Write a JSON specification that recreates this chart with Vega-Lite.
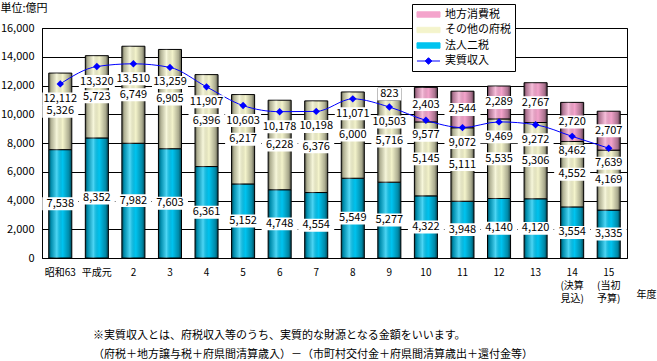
{
  "$schema": "https://vega.github.io/schema/vega-lite/v6.json",
  "width": 585,
  "height": 230,
  "autosize": {"type": "none"},
  "padding": {"left": 42, "top": 28, "right": 30, "bottom": 103},
  "background": "white",
  "config": {
    "font": "Noto Sans CJK JP",
    "view": {"stroke": "black", "strokeWidth": 1},
    "axis": {"labelColor": "black", "titleColor": "black", "labelFont": "Noto Sans CJK JP", "titleFont": "Noto Sans CJK JP"},
    "axisY": {
      "title": "単位:億円",
      "titleAngle": 0,
      "titleX": -42,
      "titleY": -20,
      "titleAlign": "left",
      "titleBaseline": "middle",
      "titleFontSize": 11,
      "titleFontWeight": "normal",
      "format": ",d",
      "labelOverlap": false,
      "grid": true,
      "gridColor": "black",
      "gridOpacity": 1,
      "domain": true,
      "domainColor": "black",
      "ticks": false,
      "labelPadding": 8,
      "labelFontSize": 11
    },
    "legend": {"labelFont": "Noto Sans CJK JP"}
  },
  "datasets": {
    "tax": [
      {"year": "昭和63", "series": "法人二税", "value": 7538},
      {"year": "昭和63", "series": "その他の府税", "value": 5326},
      {"year": "平成元", "series": "法人二税", "value": 8352},
      {"year": "平成元", "series": "その他の府税", "value": 5723},
      {"year": "2", "series": "法人二税", "value": 7982},
      {"year": "2", "series": "その他の府税", "value": 6749},
      {"year": "3", "series": "法人二税", "value": 7603},
      {"year": "3", "series": "その他の府税", "value": 6905},
      {"year": "4", "series": "法人二税", "value": 6361},
      {"year": "4", "series": "その他の府税", "value": 6396},
      {"year": "5", "series": "法人二税", "value": 5152},
      {"year": "5", "series": "その他の府税", "value": 6217},
      {"year": "6", "series": "法人二税", "value": 4748},
      {"year": "6", "series": "その他の府税", "value": 6228},
      {"year": "7", "series": "法人二税", "value": 4554},
      {"year": "7", "series": "その他の府税", "value": 6376},
      {"year": "8", "series": "法人二税", "value": 5549},
      {"year": "8", "series": "その他の府税", "value": 6000},
      {"year": "9", "series": "法人二税", "value": 5277},
      {"year": "9", "series": "その他の府税", "value": 5716},
      {"year": "9", "series": "地方消費税", "value": 823},
      {"year": "10", "series": "法人二税", "value": 4322},
      {"year": "10", "series": "その他の府税", "value": 5145},
      {"year": "10", "series": "地方消費税", "value": 2403},
      {"year": "11", "series": "法人二税", "value": 3948},
      {"year": "11", "series": "その他の府税", "value": 5111},
      {"year": "11", "series": "地方消費税", "value": 2544},
      {"year": "12", "series": "法人二税", "value": 4140},
      {"year": "12", "series": "その他の府税", "value": 5535},
      {"year": "12", "series": "地方消費税", "value": 2289},
      {"year": "13", "series": "法人二税", "value": 4120},
      {"year": "13", "series": "その他の府税", "value": 5306},
      {"year": "13", "series": "地方消費税", "value": 2767},
      {"year": "14", "series": "法人二税", "value": 3554},
      {"year": "14", "series": "その他の府税", "value": 4552},
      {"year": "14", "series": "地方消費税", "value": 2720},
      {"year": "15", "series": "法人二税", "value": 3335},
      {"year": "15", "series": "その他の府税", "value": 4169},
      {"year": "15", "series": "地方消費税", "value": 2707}
    ],
    "real": [
      {"year": "昭和63", "value": 12112},
      {"year": "平成元", "value": 13320},
      {"year": "2", "value": 13510},
      {"year": "3", "value": 13259},
      {"year": "4", "value": 11907},
      {"year": "5", "value": 10603},
      {"year": "6", "value": 10178},
      {"year": "7", "value": 10198},
      {"year": "8", "value": 11071},
      {"year": "9", "value": 10503},
      {"year": "10", "value": 9577},
      {"year": "11", "value": 9072},
      {"year": "12", "value": 9469},
      {"year": "13", "value": 9272},
      {"year": "14", "value": 8462},
      {"year": "15", "value": 7639}
    ]
  },
  "title": {
    "text": ["※実質収入とは、府税収入等のうち、実質的な財源となる金額をいいます。", "（府税＋地方譲与税＋府県間清算歳入）－（市町村交付金＋府県間清算歳出＋還付金等）"],
    "orient": "bottom",
    "anchor": "start",
    "frame": "group",
    "dx": 51,
    "offset": 27,
    "fontSize": 11,
    "fontWeight": "normal",
    "lineHeight": 19,
    "color": "black",
    "font": "Noto Sans CJK JP"
  },
  "encoding": {
    "x": {
      "field": "year",
      "type": "nominal",
      "scale": {"domain": ["昭和63", "平成元", "2", "3", "4", "5", "6", "7", "8", "9", "10", "11", "12", "13", "14", "15"], "paddingInner": 0.37, "paddingOuter": 0.185},
      "axis": {
        "title": "年度",
        "titleX": 594,
        "titleY": 36,
        "titleAlign": "left",
        "titleBaseline": "middle",
        "titleFontSize": 10,
        "titleFontWeight": "normal",
        "labelAngle": 0,
        "labelFontSize": 10,
        "labelPadding": 9,
        "labelLineHeight": 13,
        "labelOverlap": false,
        "ticks": false,
        "domain": false,
        "labelExpr": "datum.label == '14' ? ['14', '(決算', '見込)'] : datum.label == '15' ? ['15', '(当初', '予算)'] : datum.label"
      }
    }
  },
  "layer": [
    {
      "data": {"name": "tax"},
      "transform": [
        {"calculate": "indexof(['法人二税', 'その他の府税', '地方消費税'], datum.series)", "as": "k"},
        {"stack": "value", "groupby": ["year"], "sort": [{"field": "k"}], "as": ["v0", "v1"]}
      ],
      "mark": {"type": "bar", "stroke": "black", "strokeWidth": 1},
      "encoding": {
        "y": {
          "field": "v1",
          "type": "quantitative",
          "scale": {"domain": [0, 16000], "nice": false},
          "axis": {"title": "単位:億円", "values": [0, 2000, 4000, 6000, 8000, 10000, 12000, 14000, 16000], "tickCount": 20}
        },
        "y2": {"field": "v0"},
        "color": {
          "field": "series",
          "type": "nominal",
          "scale": {"domain": ["地方消費税", "その他の府税", "法人二税", "実質収入"], "range": ["#f4a4cc", "#f4f4cc", "#00c4f0", "#0000ff"]},
          "legend": {
            "orient": "none",
            "legendX": 370,
            "legendY": -24,
            "title": null,
            "strokeColor": "black",
            "fillColor": "white",
            "padding": 4,
            "labelFontSize": 11,
            "labelColor": "black",
            "symbolSize": 144,
            "symbolOffset": 6,
            "labelOffset": 10,
            "rowPadding": 3.5,
            "symbolStrokeColor": "black",
            "symbolStrokeWidth": 1,
            "encode": {
              "symbols": {
                "update": {
                  "shape": [
                    {"test": "datum.value === '実質収入'", "value": "M-1.92,0L1.92,0M0,-0.55L0.55,0L0,0.55L-0.55,0Z"},
                    {"value": "M-1.92,-0.45L1.92,-0.45L1.92,0.45L-1.92,0.45Z"}
                  ],
                  "stroke": [
                    {"test": "datum.value === '実質収入'", "value": "#0000ff"},
                    {"value": "black"}
                  ],
                  "fill": {"scale": "color", "field": "value"},
                  "opacity": {"value": 1}
                }
              }
            }
          }
        }
      }
    },
    {
      "data": {"name": "tax"},
      "transform": [
        {"calculate": "indexof(['法人二税', 'その他の府税', '地方消費税'], datum.series)", "as": "k"},
        {"stack": "value", "groupby": ["year"], "sort": [{"field": "k"}], "as": ["v0", "v1"]}
      ],
      "mark": {
        "type": "bar",
        "fill": {
          "gradient": "linear", "x1": 0, "y1": 0, "x2": 1, "y2": 0,
          "stops": [
            {"offset": 0, "color": "rgba(0,0,0,0.65)"},
            {"offset": 0.1, "color": "rgba(0,0,0,0.28)"},
            {"offset": 0.35, "color": "rgba(255,255,255,0.3)"},
            {"offset": 0.6, "color": "rgba(0,0,0,0)"},
            {"offset": 0.88, "color": "rgba(0,0,0,0.3)"},
            {"offset": 1, "color": "rgba(0,0,0,0.65)"}
          ]
        }
      },
      "encoding": {
        "y": {"field": "v1", "type": "quantitative", "scale": {"domain": [0, 16000], "nice": false}, "axis": {"title": "単位:億円", "values": [0, 2000, 4000, 6000, 8000, 10000, 12000, 14000, 16000], "tickCount": 20}},
        "y2": {"field": "v0"}
      }
    },
    {
      "data": {"name": "real"},
      "mark": {"type": "line", "interpolate": "monotone", "strokeWidth": 1},
      "encoding": {
        "y": {"field": "value", "type": "quantitative", "scale": {"domain": [0, 16000], "nice": false}, "axis": {"title": "単位:億円", "values": [0, 2000, 4000, 6000, 8000, 10000, 12000, 14000, 16000], "tickCount": 20}},
        "color": {"datum": "実質収入", "type": "nominal"}
      }
    },
    {
      "data": {"name": "real"},
      "mark": {"type": "point", "shape": "diamond", "filled": true, "color": "#0000ff", "size": 55, "opacity": 1},
      "encoding": {
        "y": {"field": "value", "type": "quantitative", "scale": {"domain": [0, 16000], "nice": false}, "axis": {"title": "単位:億円", "values": [0, 2000, 4000, 6000, 8000, 10000, 12000, 14000, 16000], "tickCount": 20}}
      }
    },
    {
      "data": {"name": "tax"},
      "transform": [
        {"calculate": "indexof(['法人二税', 'その他の府税', '地方消費税'], datum.series)", "as": "k"},
        {"stack": "value", "groupby": ["year"], "sort": [{"field": "k"}], "as": ["v0", "v1"]},
        {"calculate": "(datum.v0 + datum.v1) / 2", "as": "mid"},
        {"filter": "datum.value >= 1000"}
      ],
      "mark": {"type": "point", "shape": "M-1,-0.36L1,-0.36L1,0.36L-1,0.36Z", "filled": true, "color": "white", "size": 1296, "opacity": 1},
      "encoding": {
        "y": {"field": "mid", "type": "quantitative", "scale": {"domain": [0, 16000], "nice": false}, "axis": {"title": "単位:億円", "values": [0, 2000, 4000, 6000, 8000, 10000, 12000, 14000, 16000], "tickCount": 20}}
      }
    },
    {
      "data": {"name": "tax"},
      "transform": [
        {"calculate": "indexof(['法人二税', 'その他の府税', '地方消費税'], datum.series)", "as": "k"},
        {"stack": "value", "groupby": ["year"], "sort": [{"field": "k"}], "as": ["v0", "v1"]},
        {"calculate": "(datum.v0 + datum.v1) / 2", "as": "mid"},
        {"filter": "datum.value < 1000"}
      ],
      "mark": {"type": "point", "shape": "M-1,-0.54L1,-0.54L1,0.54L-1,0.54Z", "filled": true, "color": "white", "size": 576, "opacity": 1},
      "encoding": {
        "y": {"field": "mid", "type": "quantitative", "scale": {"domain": [0, 16000], "nice": false}, "axis": {"title": "単位:億円", "values": [0, 2000, 4000, 6000, 8000, 10000, 12000, 14000, 16000], "tickCount": 20}}
      }
    },
    {
      "data": {"name": "tax"},
      "transform": [
        {"calculate": "indexof(['法人二税', 'その他の府税', '地方消費税'], datum.series)", "as": "k"},
        {"stack": "value", "groupby": ["year"], "sort": [{"field": "k"}], "as": ["v0", "v1"]},
        {"calculate": "(datum.v0 + datum.v1) / 2", "as": "mid"}
      ],
      "mark": {"type": "text", "fontSize": 11, "color": "black", "baseline": "middle", "align": "center"},
      "encoding": {
        "y": {"field": "mid", "type": "quantitative", "scale": {"domain": [0, 16000], "nice": false}, "axis": {"title": "単位:億円", "values": [0, 2000, 4000, 6000, 8000, 10000, 12000, 14000, 16000], "tickCount": 20}},
        "text": {"field": "value", "type": "quantitative", "format": ",d"}
      }
    },
    {
      "data": {"name": "real"},
      "mark": {"type": "point", "shape": "M-1,-0.36L1,-0.36L1,0.36L-1,0.36Z", "filled": true, "color": "white", "size": 1296, "opacity": 1, "yOffset": 15},
      "encoding": {
        "y": {"field": "value", "type": "quantitative", "scale": {"domain": [0, 16000], "nice": false}, "axis": {"title": "単位:億円", "values": [0, 2000, 4000, 6000, 8000, 10000, 12000, 14000, 16000], "tickCount": 20}}
      }
    },
    {
      "data": {"name": "real"},
      "mark": {"type": "text", "fontSize": 11, "color": "black", "baseline": "middle", "align": "center", "yOffset": 15},
      "encoding": {
        "y": {"field": "value", "type": "quantitative", "scale": {"domain": [0, 16000], "nice": false}, "axis": {"title": "単位:億円", "values": [0, 2000, 4000, 6000, 8000, 10000, 12000, 14000, 16000], "tickCount": 20}},
        "text": {"field": "value", "type": "quantitative", "format": ",d"}
      }
    }
  ]
}
